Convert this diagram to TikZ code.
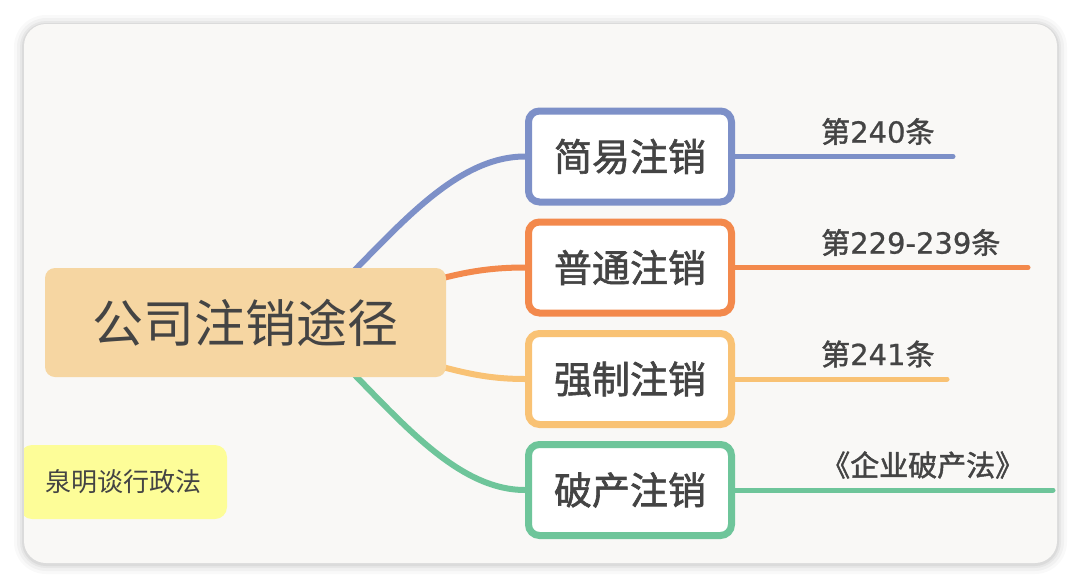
\documentclass[tikz,border=0pt]{standalone}
\usepackage{fontspec}
\setmainfont{Noto Sans CJK SC}
\newfontfamily\med{Noto Sans CJK SC}[FakeBold=1.6]
\newfontfamily\dig{DejaVu Sans}[FakeBold=0.8]
\definecolor{cB}{HTML}{7D90C8}
\definecolor{cO}{HTML}{F3894C}
\definecolor{cL}{HTML}{F9C274}
\definecolor{cG}{HTML}{6EC59A}
\definecolor{txt}{HTML}{444444}
\definecolor{card}{HTML}{F9F8F6}
\definecolor{rootc}{HTML}{F6D6A2}
\definecolor{notec}{HTML}{FDFD98}
\pgfdeclarelayer{back}\pgfdeclarelayer{edges}\pgfsetlayers{back,edges,main}
\begin{document}
\begin{tikzpicture}[x=1pt,y=-1pt, every node/.style={text=txt,inner sep=0pt},
  br/.style={#1,line width=6pt},
  kid/.style={draw=#1,line width=7pt,fill=white,rounded corners=11pt,minimum width=203,minimum height=91,font=\med\fontsize{38}{40}\selectfont},
  ref/.style={anchor=west,font=\med\fontsize{29}{31}\selectfont}]
\useasboundingbox (0,0) rectangle (1080,587);
\begin{pgfonlayer}{back}
\fill[white] (0,0) rectangle (1080,587);
\foreach \s/\o in {10/.025,7/.03,4/.04,2/.05} \fill[black,opacity=\o,rounded corners=22+\s] (24-\s,25-\s) rectangle (1057+\s,564+\s);
\fill[card,rounded corners=22pt] (24,24) rectangle (1057,563);
\end{pgfonlayer}
\node[fill=rootc,rounded corners=10pt,minimum width=401,minimum height=109,font=\fontsize{51}{53}\selectfont] (R) at (245.5,322.5) {公司注销途径};
\begin{scope}
\clip[rounded corners=22pt] (24,24) rectangle (1057,563);
\node[fill=notec,rounded corners=12pt,minimum width=207,minimum height=74,font=\fontsize{26}{28}\selectfont] (N) at (123.5,482) {泉明谈行政法};
\end{scope}
\foreach \n/\c/\y/\t/\e/\l in {1/cB/156.5/简易注销/953/第{\dig 240}条, 2/cO/267.5/普通注销/1028/第{\dig 229-239}条, 3/cL/379/强制注销/947/第{\dig 241}条, 4/cG/490/破产注销/1053/《企业破产法》}{
  \node[kid=\c] (k\n) at (630,\y) {\t};
  \coordinate (e\n) at (\e,\y);
  \node[ref] (t\n) at (821,\y-25) {\l};
  \draw[\c,line width=5pt,line cap=round] (k\n.east) -- (e\n);
}
\begin{pgfonlayer}{edges}
\draw[br=cB] ([shift={(94.5,-37.5)}]R.center) .. controls +(60,-60) and +(-68,0) .. (k1.west);
\draw[br=cO] ([shift={(184,-41)}]R.center) .. controls +(30,-8) and +(-40,0) .. (k2.west);
\draw[br=cL] ([shift={(184,41)}]R.center) .. controls +(30,8) and +(-40,0) .. (k3.west);
\draw[br=cG] ([shift={(94.5,37.5)}]R.center) .. controls +(60,60) and +(-68,0) .. (k4.west);
\end{pgfonlayer}
\end{tikzpicture}
\end{document}
